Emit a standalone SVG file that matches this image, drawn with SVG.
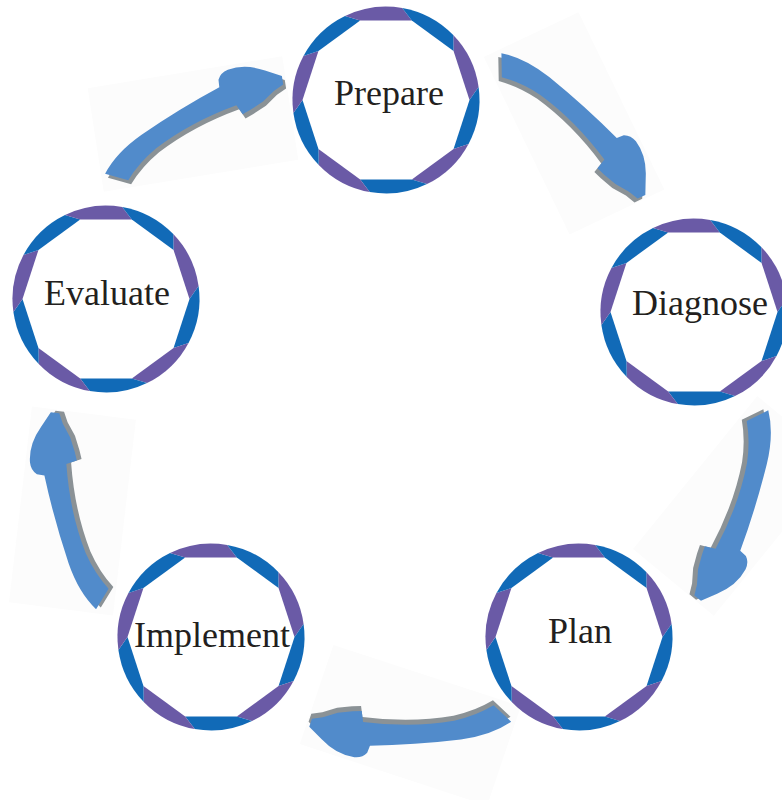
<svg xmlns="http://www.w3.org/2000/svg" xmlns:xlink="http://www.w3.org/1999/xlink" width="782" height="800" viewBox="0 0 782 800">
<style>
.lbl{font-family:"Liberation Serif","Times New Roman",serif;font-size:36px;fill:#231f20;text-anchor:middle}
.pu{fill:#6a5aa6}
.bl{fill:#116ab7}
.ar{fill:#518bcb}
.sh{fill:#8b9296}
.bg{fill:#fcfcfc}
</style>
<defs>
<g id="ring">
<path class="pu" d="M67.26,-64.95 A93.5,93.5 0 0 1 92.59,-13.01 L83.5,0 L67.55,-49.08 Z"/>
<path class="bl" d="M92.59,-13.01 A93.5,93.5 0 0 1 82.55,43.90 L67.55,49.08 L83.5,0 Z"/>
<path class="pu" d="M82.55,43.90 A93.5,93.5 0 0 1 40.99,84.04 L25.80,79.41 L67.55,49.08 Z"/>
<path class="bl" d="M40.99,84.04 A93.5,93.5 0 0 1 -16.23,92.08 L-25.80,79.41 L25.80,79.41 Z"/>
<path class="pu" d="M-16.23,92.08 A93.5,93.5 0 0 1 -67.26,64.95 L-67.55,49.08 L-25.80,79.41 Z"/>
<path class="bl" d="M-67.26,64.95 A93.5,93.5 0 0 1 -92.59,13.01 L-83.5,0 L-67.55,49.08 Z"/>
<path class="pu" d="M-92.59,13.01 A93.5,93.5 0 0 1 -82.55,-43.90 L-67.55,-49.08 L-83.5,0 Z"/>
<path class="bl" d="M-82.55,-43.90 A93.5,93.5 0 0 1 -40.99,-84.04 L-25.80,-79.41 L-67.55,-49.08 Z"/>
<path class="pu" d="M-40.99,-84.04 A93.5,93.5 0 0 1 16.23,-92.08 L25.80,-79.41 L-25.80,-79.41 Z"/>
<path class="bl" d="M16.23,-92.08 A93.5,93.5 0 0 1 67.26,-64.95 L67.55,-49.08 L25.80,-79.41 Z"/>
</g>
<path id="arrowShape" d="M-8,-6 Q12,-19 43,-22 Q90,-26 134,-25 L137,-32 Q142,-37 150,-36 Q168,-33 182,-17 L194,-4 L191,4 L180,5 L165,9 L150,10 L141,10 L140,-1 Q92,-9 49,-3 Q27,1 9,11 Z"/>
<g id="arrow">
<polygon class="bg" points="19,-89 204,-21 167,77 -18,9"/>
<use xlink:href="#arrowShape" href="#arrowShape" class="sh" transform="translate(0.5,5)"/>
<use xlink:href="#arrowShape" href="#arrowShape" class="ar"/>
</g>
</defs>
<g id="connectors">
<use xlink:href="#arrow" href="#arrow" transform="translate(115,175) rotate(-29.5)"/>
<use xlink:href="#arrow" href="#arrow" transform="translate(503,63) rotate(44)"/>
<use xlink:href="#arrow" href="#arrow" transform="translate(760,416) rotate(108.9)"/>
<use xlink:href="#arrow" href="#arrow" transform="translate(503,716) rotate(178)"/>
<use xlink:href="#arrow" href="#arrow" transform="translate(100,600) rotate(-103.5)"/>
</g>
<g id="node-prepare">
<use xlink:href="#ring" href="#ring" transform="translate(386,100)"/>
<text class="lbl" x="389" y="105">Prepare</text>
</g>
<g id="node-diagnose">
<use xlink:href="#ring" href="#ring" transform="translate(694,312)"/>
<text class="lbl" x="700" y="315">Diagnose</text>
</g>
<g id="node-plan">
<use xlink:href="#ring" href="#ring" transform="translate(579,637)"/>
<text class="lbl" x="580" y="643">Plan</text>
</g>
<g id="node-implement">
<use xlink:href="#ring" href="#ring" transform="translate(211,637)"/>
<text class="lbl" x="212" y="647">Implement</text>
</g>
<g id="node-evaluate">
<use xlink:href="#ring" href="#ring" transform="translate(106,299)"/>
<text class="lbl" x="107" y="305">Evaluate</text>
</g>
</svg>
